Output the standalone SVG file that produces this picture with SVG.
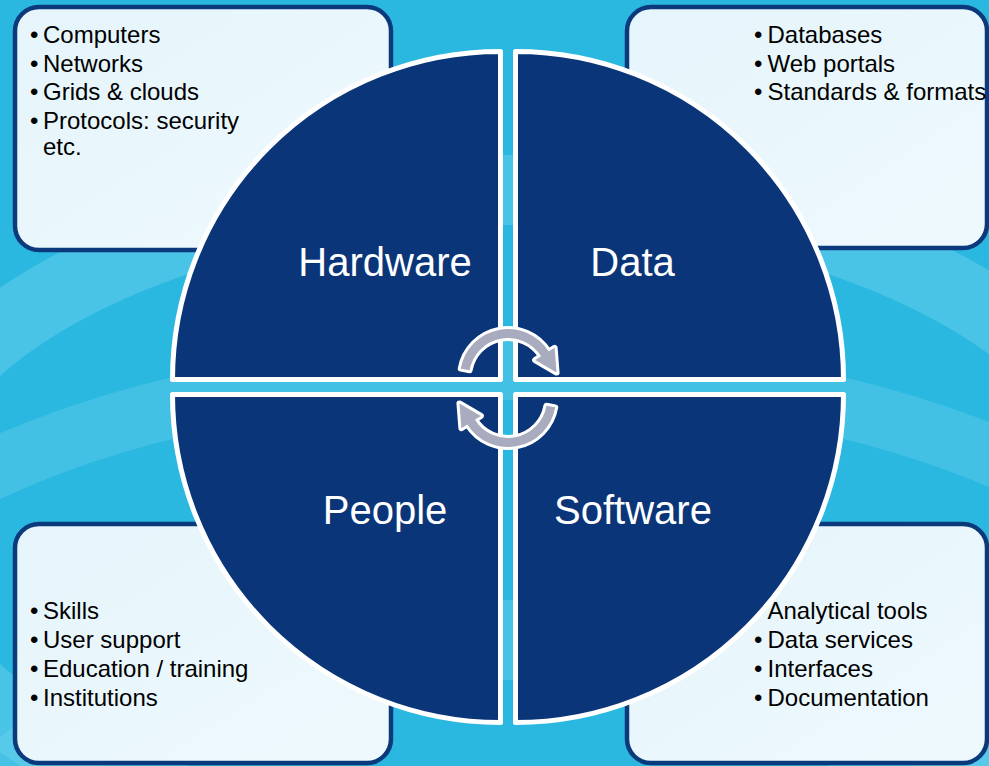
<svg xmlns="http://www.w3.org/2000/svg" width="989" height="766" viewBox="0 0 989 766">
<defs>
<style>
.box{fill:url(#boxg);stroke:#0B3A7C;stroke-width:4.5}
.quad{fill:#0A3679;stroke:#FFFFFF;stroke-width:5;stroke-linejoin:round}
.t{font-family:"Liberation Sans",Arial,sans-serif;font-size:24px;fill:#000000}
.lbl{font-family:"Liberation Sans",Arial,sans-serif;font-size:40px;fill:#FFFFFF;text-anchor:middle}
.arrow{fill:#A9ACBF;stroke:#FFFFFF;stroke-width:6;stroke-linejoin:round;paint-order:stroke}
.ring{fill:none;stroke:#6FD2EE}
</style>
<linearGradient id="boxg" x1="0" y1="0" x2="1" y2="1">
<stop offset="0" stop-color="#E5F5FB"/>
<stop offset="1" stop-color="#EEF9FD"/>
</linearGradient>
<clipPath id="clipAll"><rect x="0" y="0" width="989" height="766"/></clipPath>
</defs>

<g id="background" clip-path="url(#clipAll)">
<rect x="0" y="0" width="989" height="766" fill="#2BB8E0"/>
<ellipse class="ring" cx="508" cy="520" rx="620" ry="330" stroke-width="70" opacity="0.45"/>
<ellipse class="ring" cx="508" cy="700" rx="720" ry="330" stroke-width="60" opacity="0.35"/>
<ellipse class="ring" cx="508" cy="900" rx="560" ry="260" stroke-width="80" opacity="0.4"/>
</g>

<g id="box-hardware">
<rect class="box" x="15" y="7" width="376" height="243" rx="24" ry="24"/>
<text class="t"><tspan x="30" y="43">•</tspan><tspan x="43" y="43">Computers</tspan></text>
<text class="t"><tspan x="30" y="71.7">•</tspan><tspan x="43" y="71.7">Networks</tspan></text>
<text class="t"><tspan x="30" y="100.4">•</tspan><tspan x="43" y="100.4">Grids &amp; clouds</tspan></text>
<text class="t"><tspan x="30" y="129">•</tspan><tspan x="43" y="129">Protocols: security</tspan></text>
<text class="t"><tspan x="43" y="155">etc.</tspan></text>
</g>

<g id="box-data">
<rect class="box" x="627" y="7" width="360" height="241" rx="24" ry="24"/>
<text class="t"><tspan x="754" y="43">•</tspan><tspan x="767.5" y="43">Databases</tspan></text>
<text class="t"><tspan x="754" y="71.7">•</tspan><tspan x="767.5" y="71.7">Web portals</tspan></text>
<text class="t"><tspan x="754" y="100.4">•</tspan><tspan x="767.5" y="100.4">Standards &amp; formats</tspan></text>
</g>

<g id="box-people">
<rect class="box" x="15" y="524" width="376" height="239" rx="24" ry="24"/>
<text class="t"><tspan x="30" y="619.3">•</tspan><tspan x="43" y="619.3">Skills</tspan></text>
<text class="t"><tspan x="30" y="648.1">•</tspan><tspan x="43" y="648.1">User support</tspan></text>
<text class="t"><tspan x="30" y="676.9">•</tspan><tspan x="43" y="676.9">Education / training</tspan></text>
<text class="t"><tspan x="30" y="705.7">•</tspan><tspan x="43" y="705.7">Institutions</tspan></text>
</g>

<g id="box-software">
<rect class="box" x="627" y="524" width="360" height="239" rx="24" ry="24"/>
<text class="t"><tspan x="767.5" y="619.3">Analytical tools</tspan></text>
<text class="t"><tspan x="754" y="648.1">•</tspan><tspan x="767.5" y="648.1">Data services</tspan></text>
<text class="t"><tspan x="754" y="676.9">•</tspan><tspan x="767.5" y="676.9">Interfaces</tspan></text>
<text class="t"><tspan x="754" y="705.7">•</tspan><tspan x="767.5" y="705.7">Documentation</tspan></text>
</g>

<g id="hardware">
<path class="quad" d="M 500.5 379.5 L 172.5 379.5 A 328 328 0 0 1 500.5 51.5 Z"/>
<text class="lbl" x="385" y="275.5">Hardware</text>
</g>
<g id="data">
<path class="quad" d="M 515.5 379.5 L 515.5 51.5 A 328 328 0 0 1 843.5 379.5 Z"/>
<text class="lbl" x="632.5" y="275.5">Data</text>
</g>
<g id="people">
<path class="quad" d="M 500.5 394.5 L 500.5 722.5 A 328 328 0 0 1 172.5 394.5 Z"/>
<text class="lbl" x="385" y="524">People</text>
</g>
<g id="software">
<path class="quad" d="M 515.5 394.5 L 843.5 394.5 A 328 328 0 0 1 515.5 722.5 Z"/>
<text class="lbl" x="633" y="524">Software</text>
</g>

<g id="connectors">
<path id="cycle-arrow-top" class="arrow" d="M 460.73 368.67 A 48 48 0 0 1 548.70 351.56 L 554.64 347.86 L 556.55 372.6 L 535.14 360.04 L 541.07 356.33 A 39 39 0 0 0 469.59 370.23 Z"/>
<path id="cycle-arrow-bottom" class="arrow" transform="rotate(180 508 388)" d="M 460.73 368.67 A 48 48 0 0 1 548.70 351.56 L 554.64 347.86 L 556.55 372.6 L 535.14 360.04 L 541.07 356.33 A 39 39 0 0 0 469.59 370.23 Z"/>
</g>
</svg>
